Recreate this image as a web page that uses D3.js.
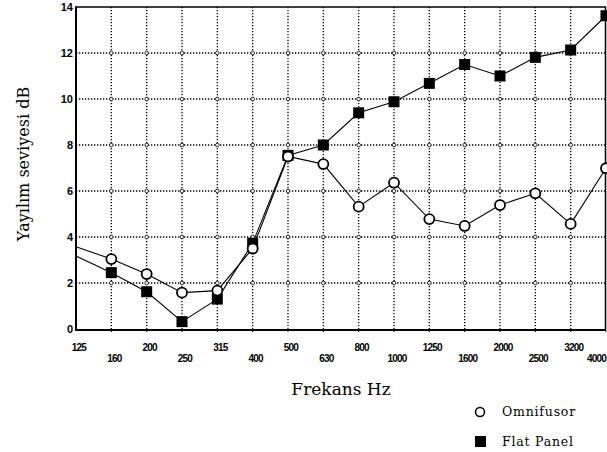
<!DOCTYPE html>
<html>
<head>
<meta charset="utf-8">
<script src="https://cdn.jsdelivr.net/npm/d3@7"></script>
<style>
  body { margin: 0; background: #fff; }
  svg { display: block; }
</style>
</head>
<body>
<div id="visArea"></div>
<script>

// Data
var freqs = ['125', '160', '200', '250', '315', '400', '500', '630', '800', '1000', '1250', '1600', '2000', '2500', '3200', '4000'];
var omnifusor = [3.58, 3.04, 2.39, 1.58, 1.67, 3.5, 7.5, 7.17, 5.32, 6.36, 4.78, 4.48, 5.39, 5.9, 4.57, 6.99];
var flatPanel = [3.17, 2.45, 1.62, 0.32, 1.3, 3.73, 7.55, 8.0, 9.4, 9.88, 10.68, 11.5, 11.0, 11.81, 12.13, 13.62];
var yTicks = [0, 2, 4, 6, 8, 10, 12, 14];


function drawGraph(){
  var w = 607, h = 452;
  var left = 76, right = 606, top = 7, bottom = 329;

  var svg = d3.select('#visArea')
              .append('svg')
              .attr('width', w)
              .attr('height', h);

  var x = d3.scalePoint()
            .domain(freqs)
            .range([left, right]);

  var y = d3.scaleLinear()
            .domain([0, 14])
            .range([bottom, top]);

  // grid
  var grid = svg.append('g').attr('class', 'grid');
  grid.selectAll('line.h')
    .data(yTicks.slice(1, -1))
    .enter()
    .append('line')
    .attr('class', 'h')
    .attr('x1', left).attr('x2', right)
    .attr('y1', function(d){ return y(d); })
    .attr('y2', function(d){ return y(d); })
    .style('stroke', '#000')
    .style('stroke-width', 1.3)
    .style('stroke-dasharray', '1.3,1.7');

  grid.selectAll('line.v')
    .data(freqs.slice(1, -1))
    .enter()
    .append('line')
    .attr('class', 'v')
    .attr('x1', function(d){ return x(d); })
    .attr('x2', function(d){ return x(d); })
    .attr('y1', top).attr('y2', bottom)
    .style('stroke', '#000')
    .style('stroke-width', 1.3)
    .style('stroke-dasharray', '1.3,1.7');

  // little rings where grid lines cross
  var crossings = [];
  freqs.slice(1, -1).forEach(function(f){
    yTicks.slice(1, -1).forEach(function(t){ crossings.push([f, t]); });
  });
  grid.selectAll('circle')
    .data(crossings)
    .enter()
    .append('circle')
    .attr('cx', function(d){ return x(d[0]); })
    .attr('cy', function(d){ return y(d[1]); })
    .attr('r', 1.8)
    .style('fill', '#fff')
    .style('stroke', '#000')
    .style('stroke-width', 0.8);

  // small ticks under the x axis
  grid.selectAll('line.t')
    .data(freqs.slice(1))
    .enter()
    .append('line')
    .attr('class', 't')
    .attr('x1', function(d){ return x(d); })
    .attr('x2', function(d){ return x(d); })
    .attr('y1', bottom).attr('y2', bottom + 4)
    .style('stroke', '#000')
    .style('stroke-width', 1)
    .style('stroke-dasharray', '1,1');

  // frame
  svg.append('line').attr('x1', left).attr('x2', right).attr('y1', top).attr('y2', top)
    .style('stroke', '#000').style('stroke-width', 1.5);
  svg.append('line').attr('x1', right - 0.5).attr('x2', right - 0.5).attr('y1', top).attr('y2', bottom)
    .style('stroke', '#000').style('stroke-width', 1.5);
  svg.append('line').attr('x1', left).attr('x2', right).attr('y1', bottom + 1).attr('y2', bottom + 1)
    .style('stroke', '#000').style('stroke-width', 2);
  svg.append('line').attr('x1', left).attr('x2', left).attr('y1', top - 0.75).attr('y2', bottom + 2)
    .style('stroke', '#000').style('stroke-width', 2);

  // y tick labels
  svg.append('g').attr('class', 'labels y')
    .selectAll('text')
    .data(yTicks)
    .enter()
    .append('text')
    .attr('x', 73)
    .attr('y', function(d){ return y(d) + 4; })
    .text(function(d){ return d; })
    .style('text-anchor', 'end')
    .style('font-family', 'Liberation Sans, Arial, sans-serif')
    .style('font-weight', 'bold')
    .style('font-size', '11px');

  // x tick labels, alternating rows; the last one sits against the edge
  var nf = freqs.length;
  svg.append('g').attr('class', 'labels x')
    .selectAll('text')
    .data(freqs)
    .enter()
    .append('text')
    .attr('x', function(d,i){ return i == nf - 1 ? 606 : x(d) + 3; })
    .attr('y', function(d,i){ return i % 2 == 0 ? 351 : 362; })
    .text(function(d){ return d; })
    .style('text-anchor', function(d,i){ return i == nf - 1 ? 'end' : 'middle'; })
    .style('font-family', 'Liberation Sans, Arial, sans-serif')
    .style('font-weight', 'bold')
    .style('font-size', '10px')
    .style('letter-spacing', '-0.8px');

  // series
  var line = d3.line()
    .x(function(d,i){ return x(freqs[i]); })
    .y(function(d){ return y(d); });

  svg.append('path').datum(omnifusor)
    .attr('d', line)
    .style('fill', 'none').style('stroke', '#000').style('stroke-width', 1.1);
  svg.append('path').datum(flatPanel)
    .attr('d', line)
    .style('fill', 'none').style('stroke', '#000').style('stroke-width', 1.1);

  // markers (none at 125, where the lines start from the axis)
  svg.append('g').attr('class', 'squares')
    .selectAll('rect')
    .data(flatPanel.slice(1))
    .enter()
    .append('rect')
    .attr('x', function(d,i){ return x(freqs[i+1]) - 5.5; })
    .attr('y', function(d){ return y(d) - 5.5; })
    .attr('width', 11).attr('height', 11)
    .style('fill', '#000');

  svg.append('g').attr('class', 'circles')
    .selectAll('circle')
    .data(omnifusor.slice(1))
    .enter()
    .append('circle')
    .attr('cx', function(d,i){ return x(freqs[i+1]); })
    .attr('cy', function(d){ return y(d); })
    .attr('r', 5)
    .style('fill', '#fff')
    .style('stroke', '#000')
    .style('stroke-width', 1.8);

  // axis titles
  svg.append('text')
    .attr('x', 341).attr('y', 395)
    .text('Frekans Hz')
    .style('text-anchor', 'middle')
    .style('font-family', 'DejaVu Serif, serif')
    .style('font-size', '17px');

  svg.append('text')
    .attr('transform', 'translate(29,164) rotate(-90)')
    .text('Yayılım seviyesi dB')
    .style('text-anchor', 'middle')
    .style('font-family', 'DejaVu Serif, serif')
    .style('font-size', '16px');

  // legend
  var legend = svg.append('g').attr('class', 'legend');
  legend.append('circle')
    .attr('cx', 480).attr('cy', 412).attr('r', 4.5)
    .style('fill', '#fff').style('stroke', '#000').style('stroke-width', 1.5);
  legend.append('rect')
    .attr('x', 475).attr('y', 436).attr('width', 11).attr('height', 11)
    .style('fill', '#000');
  legend.selectAll('text')
    .data(['Omnifusor', 'Flat Panel'])
    .enter()
    .append('text')
    .attr('x', 502)
    .attr('y', function(d,i){ return 416 + i*30; })
    .text(function(d){ return d; })
    .style('font-family', 'DejaVu Serif, serif')
    .style('font-size', '12.5px')
    .style('letter-spacing', '0.8px');
}

drawGraph();
</script>
</body>
</html>
